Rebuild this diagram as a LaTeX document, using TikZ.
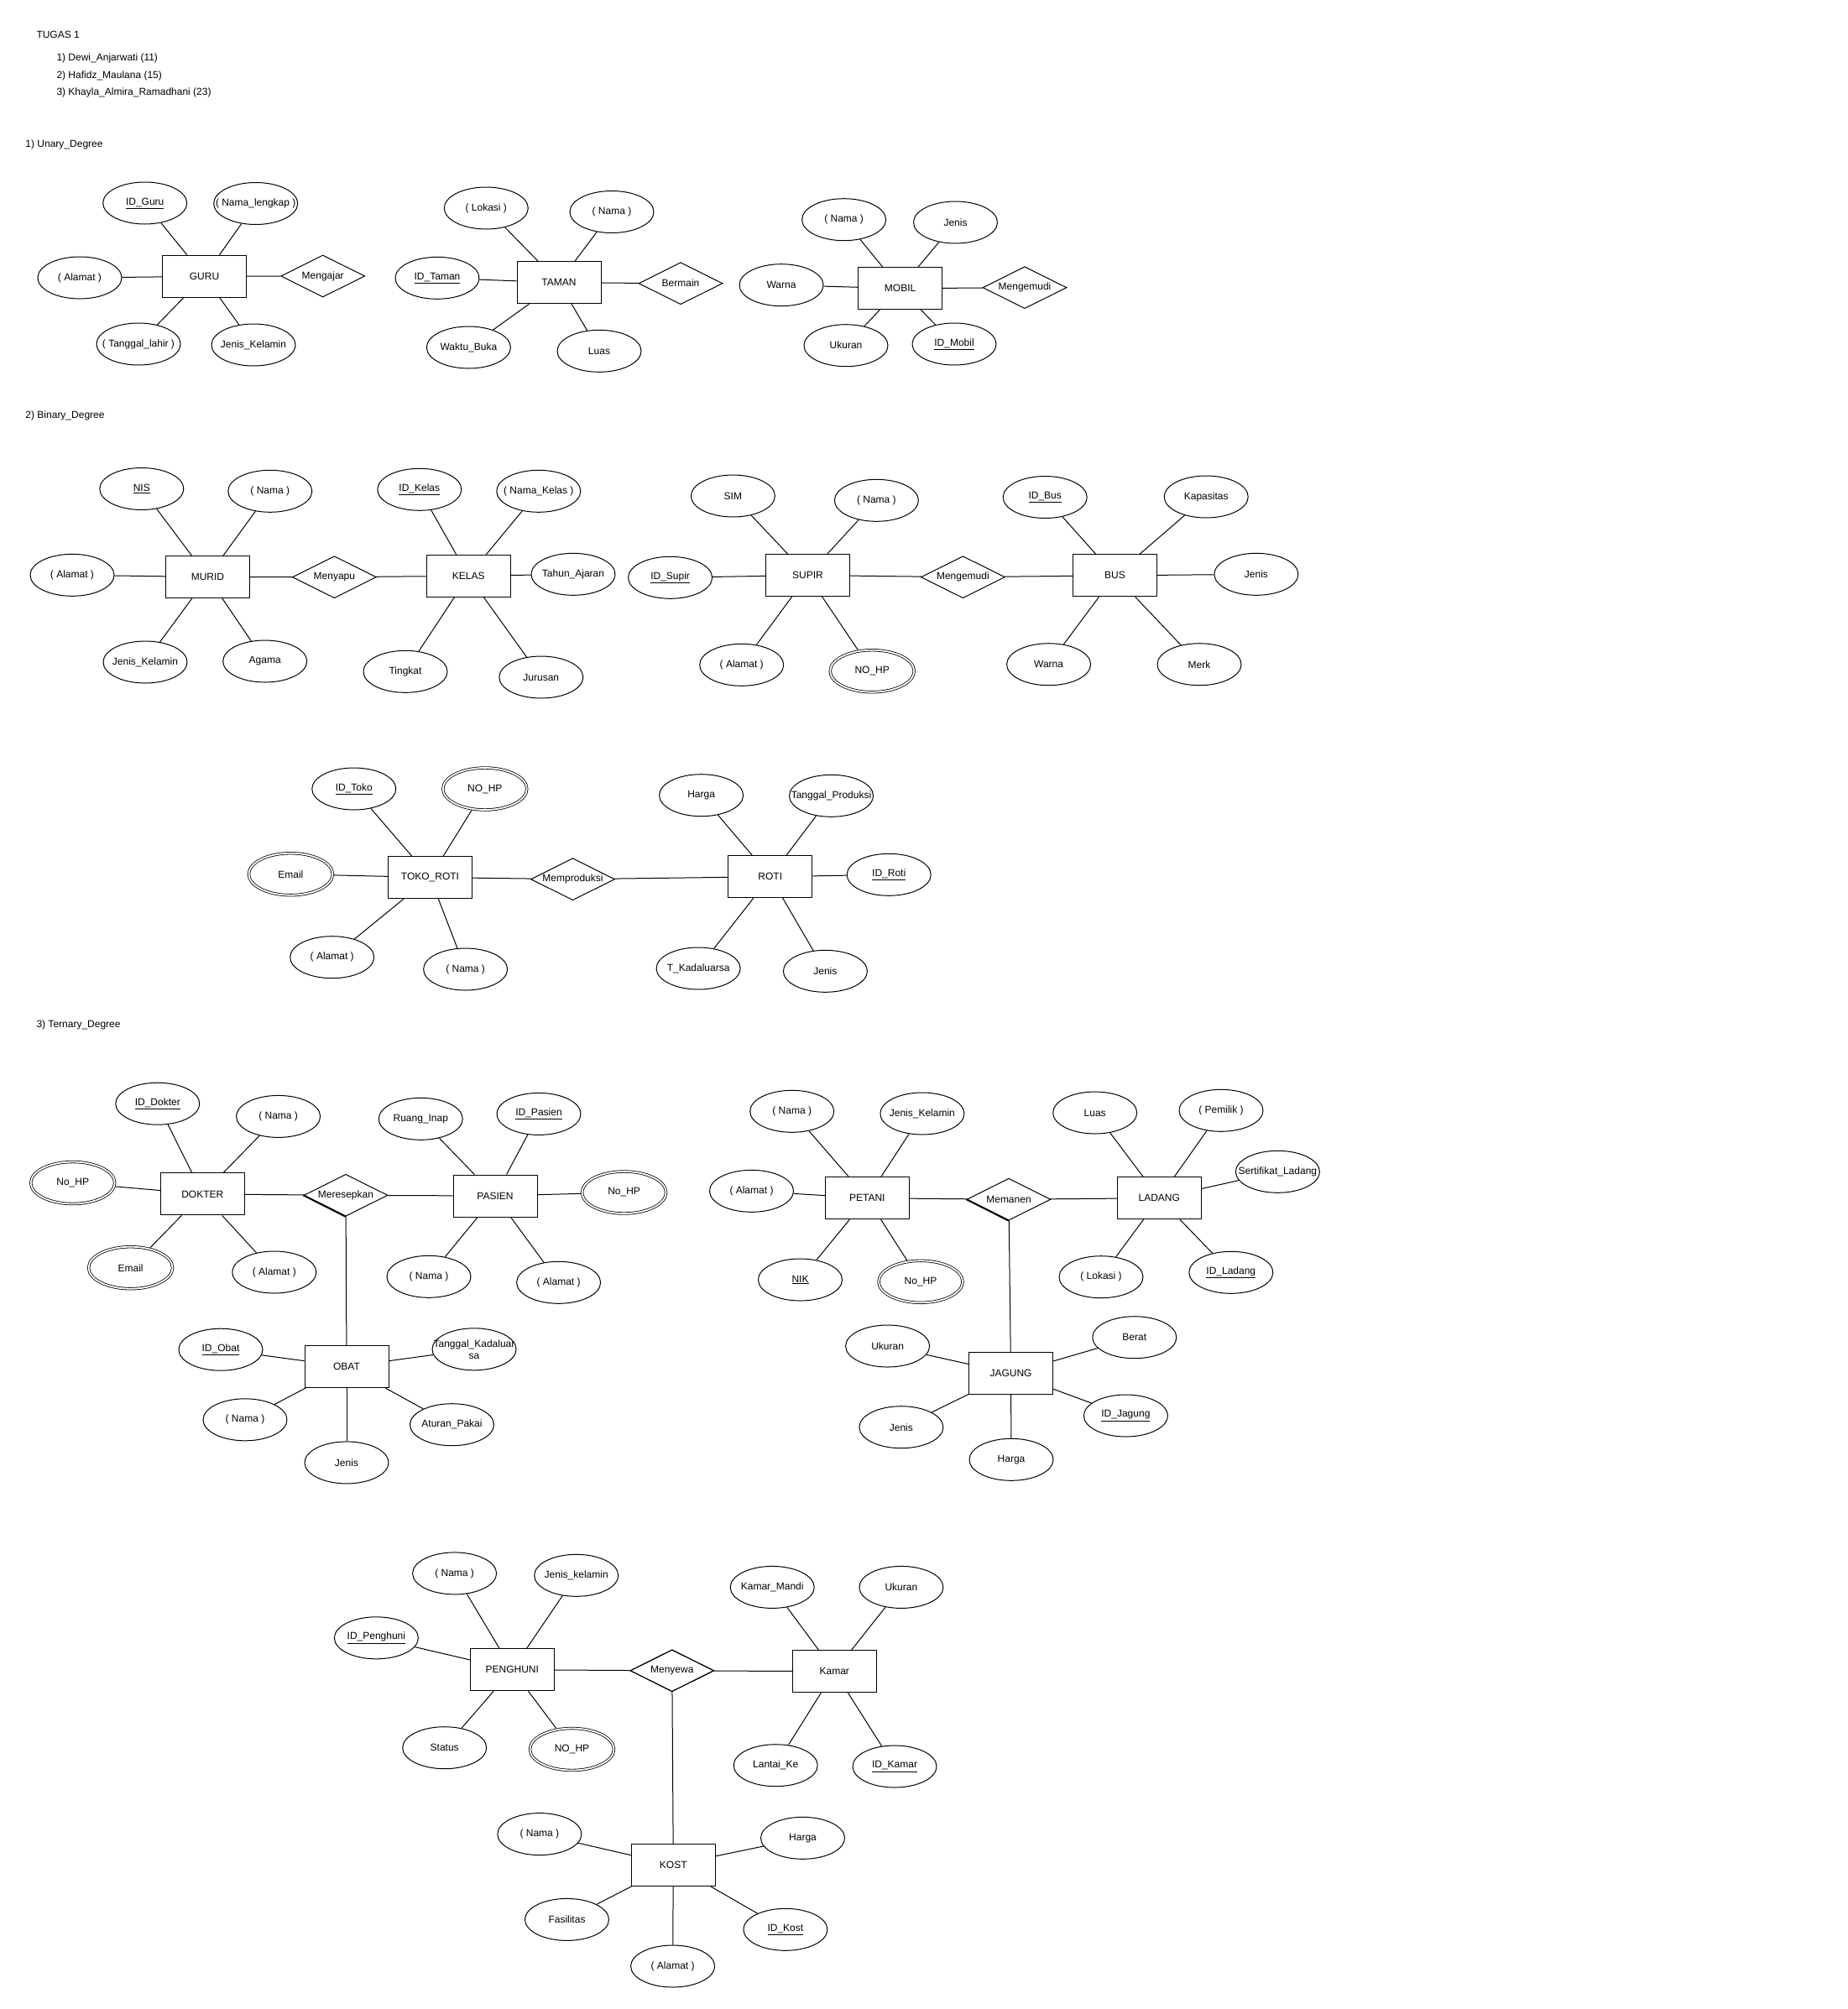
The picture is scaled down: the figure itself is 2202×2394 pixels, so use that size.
\documentclass[tikz,border=0pt]{standalone}
\usepackage{fontspec}
\setmainfont{Liberation Sans}
\usetikzlibrary{shapes.geometric}
\newcommand{\mbz}[1]{\makebox[0pt][c]{#1}}
\begin{document}
\begin{tikzpicture}[x=1pt,y=-1pt,line width=1pt,
  font=\fontsize{12}{14}\selectfont,
  lbl/.style={anchor=west,inner sep=0pt},
  ent/.style={draw,rectangle,minimum width=100pt,minimum height=50pt,inner sep=0pt},
  attr/.style={draw,ellipse,minimum width=100pt,minimum height=50pt,inner sep=0pt},
  mattr/.style={attr,line width=0.8pt,double,double distance=1.8pt,outer sep=1.7pt},
  rel/.style={draw,diamond,aspect=2,minimum width=100pt,minimum height=50pt,inner sep=0pt}]
\useasboundingbox (0,0) rectangle (2202,2394);
\fill[white] (0,0) rectangle (2202,2394);

% header
\node[lbl] (t0) at (43,41) {TUGAS 1};
\node[lbl] (t1) at (67,69) {1) Dewi\_Anjarwati (11)};
\node[lbl] (t2) at (67,90) {2) Hafidz\_Maulana (15)};
\node[lbl] (t3) at (67,110) {3) Khayla\_Almira\_Ramadhani (23)};
\node[lbl] (s1) at (30,172) {1) Unary\_Degree};
\node[lbl] (s2) at (30,495) {2) Binary\_Degree};
\node[lbl] (s3) at (43,1221) {3) Ternary\_Degree};

% ---------- Unary: GURU
\node[ent] (guru) at (243.5,329.3) {\mbz{GURU}};
\node[attr] (guruid) at (172.7,242) {\mbz{\underline{ID\_Guru}}};
\node[attr] (gurunama) at (304.7,242.5) {\mbz{( Nama\_lengkap )}};
\node[attr] (gurual) at (95,331) {\mbz{( Alamat )}};
\node[attr] (gurutgl) at (165,410) {\mbz{( Tanggal\_lahir )}};
\node[attr] (gurujk) at (302,411) {\mbz{Jenis\_Kelamin}};
\node[rel] (mengajar) at (384.7,329) {\mbz{Mengajar}};
\foreach \a in {guruid,gurunama,gurual,gurutgl,gurujk,mengajar} \draw (guru) -- (\a);

% TAMAN
\node[ent] (taman) at (666,336.7) {\mbz{TAMAN}};
\node[attr] (tamlok) at (579.3,248) {\mbz{( Lokasi )}};
\node[attr] (tamnama) at (729,252.5) {\mbz{( Nama )}};
\node[attr] (tamid) at (521,331.3) {\mbz{\underline{ID\_Taman}}};
\node[attr] (tamwb) at (558.4,414) {\mbz{Waktu\_Buka}};
\node[attr] (tamluas) at (714,418.3) {\mbz{Luas}};
\node[rel] (bermain) at (811,337.7) {\mbz{Bermain}};
\foreach \a in {tamlok,tamnama,tamid,tamwb,tamluas,bermain} \draw (taman) -- (\a);

% MOBIL
\node[ent] (mobil) at (1072.6,343.7) {\mbz{MOBIL}};
\node[attr] (mobnama) at (1005.6,261.7) {\mbz{( Nama )}};
\node[attr] (mobjenis) at (1138.5,265) {\mbz{Jenis}};
\node[attr] (mobwarna) at (931,339.7) {\mbz{Warna}};
\node[attr] (mobuk) at (1008,411.7) {\mbz{Ukuran}};
\node[attr] (mobid) at (1137,410) {\mbz{\underline{ID\_Mobil}}};
\node[rel] (mengemudia) at (1221,342.7) {\mbz{Mengemudi}};
\foreach \a in {mobnama,mobjenis,mobwarna,mobuk,mobid,mengemudia} \draw (mobil) -- (\a);

% ---------- Binary: MURID - KELAS
\node[ent] (murid) at (247.5,687.5) {\mbz{MURID}};
\node[attr] (nis) at (168.8,582.5) {\mbz{\underline{NIS}}};
\node[attr] (murnama) at (321.8,585.3) {\mbz{( Nama )}};
\node[attr] (muralamat) at (86,685.3) {\mbz{( Alamat )}};
\node[attr] (murjk) at (173,789) {\mbz{Jenis\_Kelamin}};
\node[attr] (agama) at (315.7,788) {\mbz{Agama}};
\node[rel] (menyapu) at (398.4,687.7) {\mbz{Menyapu}};
\node[ent] (kelas) at (558.2,686.3) {\mbz{KELAS}};
\node[attr] (kelid) at (499.8,583.3) {\mbz{\underline{ID\_Kelas}}};
\node[attr] (kelnama) at (641.8,585.3) {\mbz{( Nama\_Kelas )}};
\node[attr] (tahun) at (683,684.3) {\mbz{Tahun\_Ajaran}};
\node[attr] (tingkat) at (483,800.3) {\mbz{Tingkat}};
\node[attr] (jurusan) at (644.8,807) {\mbz{Jurusan}};
\foreach \a in {nis,murnama,muralamat,murjk,agama,menyapu} \draw (murid) -- (\a);
\foreach \a in {kelid,kelnama,tahun,tingkat,jurusan,menyapu} \draw (kelas) -- (\a);

% SUPIR - BUS
\node[ent] (supir) at (962.5,685.5) {\mbz{SUPIR}};
\node[attr] (sim) at (873.4,591) {\mbz{SIM}};
\node[attr] (supnama) at (1044.4,596.3) {\mbz{( Nama )}};
\node[attr] (supid) at (798.6,688.3) {\mbz{\underline{ID\_Supir}}};
\node[attr] (supal) at (883.7,792.3) {\mbz{( Alamat )}};
\node[mattr] (suphp) at (1039.2,799.7) {\mbz{NO\_HP}};
\node[rel] (mengemudib) at (1147.4,687.7) {\mbz{Mengemudi}};
\node[ent] (bus) at (1328.5,685.8) {\mbz{BUS}};
\node[attr] (busid) at (1245.2,592.5) {\mbz{\underline{ID\_Bus}}};
\node[attr] (kapasitas) at (1437.2,592) {\mbz{Kapasitas}};
\node[attr] (busjenis) at (1496.9,684.3) {\mbz{Jenis}};
\node[attr] (buswarna) at (1249.6,791.7) {\mbz{Warna}};
\node[attr] (merk) at (1429,791.7) {\mbz{Merk}};
\foreach \a in {sim,supnama,supid,supal,suphp,mengemudib} \draw (supir) -- (\a);
\foreach \a in {busid,kapasitas,busjenis,buswarna,merk,mengemudib} \draw (bus) -- (\a);

% TOKO_ROTI - ROTI
\node[ent] (toko) at (512.5,1045.5) {\mbz{TOKO\_ROTI}};
\node[attr] (tokoid) at (421.8,940) {\mbz{\underline{ID\_Toko}}};
\node[mattr] (tokohp) at (577.8,940) {\mbz{NO\_HP}};
\node[mattr] (email) at (346.4,1041.7) {\mbz{Email}};
\node[attr] (tokoal) at (395.7,1140.7) {\mbz{( Alamat )}};
\node[attr] (tokonama) at (554.6,1155) {\mbz{( Nama )}};
\node[rel] (memproduksi) at (682.5,1047.7) {\mbz{Memproduksi}};
\node[ent] (roti) at (917.8,1044.7) {\mbz{ROTI}};
\node[attr] (harga) at (835.6,947.7) {\mbz{Harga}};
\node[attr] (tglprod) at (990.5,948.3) {\mbz{Tanggal\_Produksi}};
\node[attr] (rotiid) at (1059.2,1042.3) {\mbz{\underline{ID\_Roti}}};
\node[attr] (tkad) at (832.1,1154) {\mbz{T\_Kadaluarsa}};
\node[attr] (rotijenis) at (983.4,1157.3) {\mbz{Jenis}};
\foreach \a in {tokoid,tokohp,email,tokoal,tokonama,memproduksi} \draw (toko) -- (\a);
\foreach \a in {harga,tglprod,rotiid,tkad,rotijenis,memproduksi} \draw (roti) -- (\a);

% ---------- Ternary: DOKTER - PASIEN - OBAT
\node[ent] (dokter) at (241.3,1422.9) {\mbz{DOKTER}};
\node[attr] (dokid) at (187.8,1315.2) {\mbz{\underline{ID\_Dokter}}};
\node[attr] (doknama) at (331.6,1330.4) {\mbz{( Nama )}};
\node[mattr] (dokhp) at (86.7,1409.5) {\mbz{No\_HP}};
\node[mattr] (dokemail) at (155.6,1510.7) {\mbz{Email}};
\node[attr] (dokal) at (326.8,1516) {\mbz{( Alamat )}};
\node[rel] (meresepkan) at (412,1424.3) {\mbz{Meresepkan}};
\node[ent] (pasien) at (590,1425) {\mbz{PASIEN}};
\node[attr] (ruang) at (501.3,1333.3) {\mbz{Ruang\_Inap}};
\node[attr] (pasid) at (642,1327.4) {\mbz{\underline{ID\_Pasien}}};
\node[mattr] (pashp) at (743.6,1421) {\mbz{No\_HP}};
\node[attr] (pasnama) at (511,1521.3) {\mbz{( Nama )}};
\node[attr] (pasal) at (665.6,1528.3) {\mbz{( Alamat )}};
\node[ent] (obat) at (413,1628.5) {\mbz{OBAT}};
\node[attr] (obatid) at (263,1608.2) {\mbz{\underline{ID\_Obat}}};
\node[attr,align=center] (tglkad) at (565,1607.8) {\mbz{Tanggal\_Kadaluar}\\\mbz{sa}};
\node[attr] (obatnama) at (292,1691.8) {\mbz{( Nama )}};
\node[attr] (aturan) at (538.5,1697.7) {\mbz{Aturan\_Pakai}};
\node[attr] (obatjenis) at (413,1742.9) {\mbz{Jenis}};
\foreach \a in {dokid,doknama,dokhp,dokemail,dokal,meresepkan} \draw (dokter) -- (\a);
\foreach \a in {ruang,pasid,pashp,pasnama,pasal,meresepkan} \draw (pasien) -- (\a);
\foreach \a in {obatid,tglkad,obatnama,aturan,obatjenis,meresepkan} \draw (obat) -- (\a);
\draw[line width=2pt] (meresepkan.west) -- (meresepkan.south);

% PETANI - LADANG - JAGUNG
\node[ent] (petani) at (1033.3,1427.7) {\mbz{PETANI}};
\node[attr] (petnama) at (943.7,1324.3) {\mbz{( Nama )}};
\node[attr] (petjk) at (1098.9,1327) {\mbz{Jenis\_Kelamin}};
\node[attr] (petal) at (895.5,1419.3) {\mbz{( Alamat )}};
\node[attr] (nik) at (953.5,1525) {\mbz{\underline{NIK}}};
\node[mattr] (pethp) at (1097,1527.3) {\mbz{No\_HP}};
\node[rel] (memanen) at (1202,1429.2) {\mbz{Memanen}};
\node[ent] (ladang) at (1381.3,1427.7) {\mbz{LADANG}};
\node[attr] (ladluas) at (1304.7,1326) {\mbz{Luas}};
\node[attr] (pemilik) at (1455,1323.3) {\mbz{( Pemilik )}};
\node[attr] (sertif) at (1522.4,1396.3) {\mbz{Sertifikat\_Ladang}};
\node[attr] (ladlok) at (1312,1521.7) {\mbz{( Lokasi )}};
\node[attr] (ladid) at (1466.8,1516.3) {\mbz{\underline{ID\_Ladang}}};
\node[ent] (jagung) at (1204.5,1636.7) {\mbz{JAGUNG}};
\node[attr] (jagukuran) at (1057.6,1604) {\mbz{Ukuran}};
\node[attr] (berat) at (1351.8,1593.7) {\mbz{Berat}};
\node[attr] (jagjenis) at (1073.9,1700.7) {\mbz{Jenis}};
\node[attr] (jagharga) at (1205,1739.3) {\mbz{Harga}};
\node[attr] (jagid) at (1341.4,1687) {\mbz{\underline{ID\_Jagung}}};
\foreach \a in {petnama,petjk,petal,nik,pethp,memanen} \draw (petani) -- (\a);
\foreach \a in {ladluas,pemilik,sertif,ladlok,ladid,memanen} \draw (ladang) -- (\a);
\foreach \a in {jagukuran,berat,jagjenis,jagharga,jagid,memanen} \draw (jagung) -- (\a);
\draw[line width=2pt] (memanen.west) -- (memanen.south);

% PENGHUNI - Kamar - KOST
\node[ent] (penghuni) at (610.3,1989.7) {\mbz{PENGHUNI}};
\node[attr] (pennama) at (541.6,1874.9) {\mbz{( Nama )}};
\node[attr] (penjk) at (686.7,1877.3) {\mbz{Jenis\_kelamin}};
\node[attr] (penid) at (448.4,1951.8) {\mbz{\underline{ID\_Penghuni}}};
\node[attr] (status) at (529.7,2082.7) {\mbz{Status}};
\node[mattr] (penhp) at (681.5,2084.5) {\mbz{NO\_HP}};
\node[rel,line width=1.3pt] (menyewa) at (800.8,1990.8) {\mbz{Menyewa}};
\node[ent] (kamar) at (994.3,1991.7) {\mbz{Kamar}};
\node[attr] (kmandi) at (920.2,1891.4) {\mbz{Kamar\_Mandi}};
\node[attr] (kamukuran) at (1073.9,1891.4) {\mbz{Ukuran}};
\node[attr] (lantai) at (924.2,2103.7) {\mbz{Lantai\_Ke}};
\node[attr] (kamid) at (1066,2105) {\mbz{\underline{ID\_Kamar}}};
\node[ent] (kost) at (802.3,2222.3) {\mbz{KOST}};
\node[attr] (kostnama) at (642.9,2185.6) {\mbz{( Nama )}};
\node[attr] (kostharga) at (956.5,2190.3) {\mbz{Harga}};
\node[attr] (fasilitas) at (675.5,2287.4) {\mbz{Fasilitas}};
\node[attr] (kostid) at (935.9,2299.3) {\mbz{\underline{ID\_Kost}}};
\node[attr] (kostal) at (801.6,2343) {\mbz{( Alamat )}};
\foreach \a in {pennama,penjk,penid,status,penhp,menyewa} \draw (penghuni) -- (\a);
\foreach \a in {kmandi,kamukuran,lantai,kamid,menyewa} \draw (kamar) -- (\a);
\foreach \a in {kostnama,kostharga,fasilitas,kostid,kostal,menyewa} \draw (kost) -- (\a);
\end{tikzpicture}
\end{document}
